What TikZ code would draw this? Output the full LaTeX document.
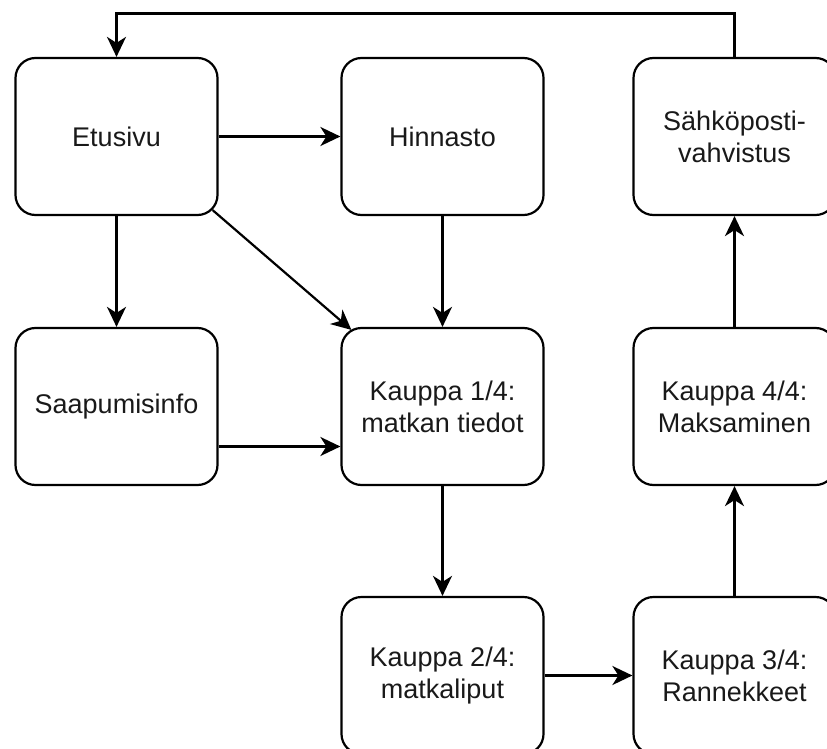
\documentclass[tikz,border=0pt]{standalone}
\usepackage{fontspec}
\setmainfont{Liberation Sans}
\usetikzlibrary{arrows.meta}
\begin{document}
\begin{tikzpicture}[x=1pt,y=-1pt,line width=2.2pt,
  page/.style={draw,rounded corners=20pt,minimum width=202pt,minimum height=157pt,
    inner sep=0pt,align=center,font=\fontsize{27}{32}\selectfont,text=black!90},
  arr/.style={-{Stealth[length=20pt,width=19pt,inset=6pt]}}]
\clip (0,0) rectangle (827,749);
%pages
\node[page] (etusivu) at (116.5,136.5) {Etusivu};
\node[page] (hinnasto) at (442.5,136.5) {Hinnasto};
\node[page] (vahvistus) at (734.5,136.5) {Sähköposti-\\vahvistus};
\node[page] (saapumis) at (116.5,406.5) {Saapumisinfo};
\node[page] (kauppa1) at (442.5,406.5) {Kauppa 1/4:\\matkan tiedot};
\node[page] (kauppa4) at (734.5,406.5) {Kauppa 4/4:\\Maksaminen};
\node[page] (kauppa2) at (442.5,675.5) {Kauppa 2/4:\\matkaliput};
\node[page] (kauppa3) at (734.5,675.5) {Kauppa 3/4:\\Rannekkeet};
\coordinate (paluu) at (734.5,13.5);
%links
\draw[arr] (etusivu.east)--(hinnasto.west);
\draw[arr] (etusivu.south)--(saapumis.north);
\draw[arr] ([xshift=-6pt,yshift=6pt]etusivu.south east)--([xshift=11pt,yshift=-3pt]kauppa1.north west);
\draw[arr] (hinnasto.south)--(kauppa1.north);
\draw[arr] ([yshift=-40pt]saapumis.east)--([yshift=-40pt]kauppa1.west);
\draw[arr] (kauppa1.south)--(kauppa2.north);
\draw[arr] (kauppa2.east)--(kauppa3.west);
\draw[arr] (kauppa3.north)--(kauppa4.south);
\draw[arr] (kauppa4.north)--(vahvistus.south);
\draw[arr] (vahvistus.north)--(paluu)-|(etusivu.north);
\end{tikzpicture}
\end{document}
